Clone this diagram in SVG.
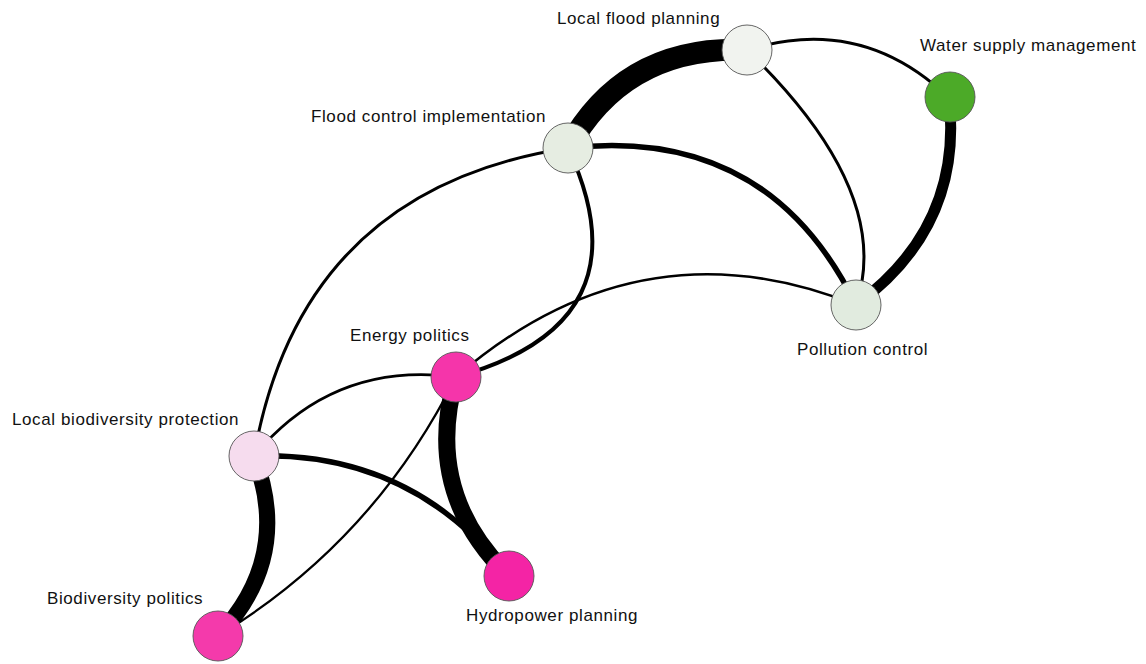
<svg xmlns="http://www.w3.org/2000/svg" width="1146" height="664" viewBox="0 0 1146 664">
  <style>
    .edge { fill: none; stroke: #000; stroke-linecap: butt; }
    .node circle { stroke: #555; stroke-width: 0.9; }
    .node text { font-family: "Liberation Sans", Arial, sans-serif; font-size: 17px; letter-spacing: 0.6px; fill: #111; }
  </style>
  <rect width="1146" height="664" fill="#fff"/>
  <g id="connectors">
    <path class="edge" stroke-width="22" d="M747,50 Q624.5,45 568,148"/>
    <path class="edge" stroke-width="3" d="M747,50 Q862,14 949,98"/>
    <path class="edge" stroke-width="3" d="M747,50 Q894.5,192.5 856,305"/>
    <path class="edge" stroke-width="5.5" d="M568,148 Q768,125 856,305"/>
    <path class="edge" stroke-width="11" d="M949,98 Q963.5,226.5 856,305"/>
    <path class="edge" stroke-width="4" d="M568,148 Q650,323.5 456,377"/>
    <path class="edge" stroke-width="2.5" d="M456,377 Q640,218 856,305"/>
    <path class="edge" stroke-width="2.7" d="M456,377 Q333,360.7 254,456"/>
    <path class="edge" stroke-width="2.3" d="M456,377 Q374,541 218,636"/>
    <path class="edge" stroke-width="17" d="M456,377 Q422.7,492.5 509,576"/>
    <path class="edge" stroke-width="5.5" d="M254,456 Q412,450.8 509,576"/>
    <path class="edge" stroke-width="16" d="M254,456 Q292.8,557.4 218,636"/>
    <path class="edge" stroke-width="3" d="M568,148 Q300.4,189.2 254,456"/>
  </g>
  <g id="node-local-flood-planning" class="node">
    <circle cx="747" cy="50" r="25" fill="#f1f3ef"/>
    <text x="557" y="24">Local flood planning</text>
  </g>
  <g id="node-water-supply-management" class="node">
    <circle cx="950" cy="97" r="25" fill="#4caa28"/>
    <text x="920" y="51">Water supply management</text>
  </g>
  <g id="node-flood-control-implementation" class="node">
    <circle cx="568" cy="148" r="25" fill="#e6ede2"/>
    <text x="311" y="122">Flood control implementation</text>
  </g>
  <g id="node-pollution-control" class="node">
    <circle cx="856" cy="305" r="25" fill="#e1ebdf"/>
    <text x="797" y="355">Pollution control</text>
  </g>
  <g id="node-energy-politics" class="node">
    <circle cx="456" cy="377" r="25" fill="#f535aa"/>
    <text x="350" y="341">Energy politics</text>
  </g>
  <g id="node-local-biodiversity-protection" class="node">
    <circle cx="254" cy="456" r="25" fill="#f6dcee"/>
    <text x="12" y="425">Local biodiversity protection</text>
  </g>
  <g id="node-biodiversity-politics" class="node">
    <circle cx="218" cy="636" r="25" fill="#f43aab"/>
    <text x="47" y="604">Biodiversity politics</text>
  </g>
  <g id="node-hydropower-planning" class="node">
    <circle cx="509" cy="576" r="25" fill="#f424a5"/>
    <text x="466" y="621">Hydropower planning</text>
  </g>
</svg>
